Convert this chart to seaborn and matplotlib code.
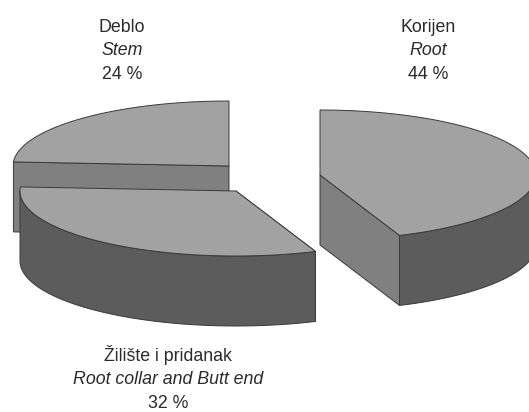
import numpy as np
import matplotlib
matplotlib.use('Agg')
import matplotlib.pyplot as plt
import seaborn as sns

names_hr = ['Korijen', 'Žilište i pridanak', 'Deblo']
names_en = ['Root', 'Root collar and Butt end', 'Stem']
shares = [44, 32, 24]

# pie geometry in image pixels
RX, RY, DEPTH = 216, 65, 70
centers = [(320, 175), (236, 191), (229, 166)]
label_pos = [(428, 32), (168, 361), (122, 32)]
LINE = 23.3

TOP = '#a2a2a2'
CUT = '#808080'
WALL = '#5c5c5c'
EDGE = '#3a3a3a'
TEXT = '#2a2a2a'

sns.set_theme(style='white')
plt.rcParams['font.family'] = ['Liberation Sans', 'DejaVu Sans']

fig = plt.figure(figsize=(5.29, 4.12), dpi=100)
ax = fig.add_axes([0, 0, 1, 1])
ax.set_xlim(0, 529)
ax.set_ylim(412, 0)
ax.axis('off')


def rim(cx, cy, a0, a1):
    # angles clockwise from 12 o'clock
    t = np.radians(np.linspace(a0, a1, 120))
    return cx + RX * np.sin(t), cy - RY * np.cos(t)


def draw_slice(cx, cy, a0, a1, face_angle, z):
    # cut face towards the viewer
    t = np.radians(face_angle)
    ex, ey = cx + RX * np.sin(t), cy - RY * np.cos(t)
    ax.fill([cx, ex, ex, cx], [cy, ey, ey + DEPTH, cy + DEPTH],
            fc=CUT, ec=EDGE, lw=0.7, zorder=z)
    # outer wall, only the front half of the rim shows
    w0, w1 = max(a0, 90), min(a1, 270)
    if w1 > w0:
        x, y = rim(cx, cy, w0, w1)
        ax.fill(np.r_[x, x[::-1]], np.r_[y, y[::-1] + DEPTH],
                fc=WALL, ec=EDGE, lw=0.7, zorder=z)
    # top
    x, y = rim(cx, cy, a0, a1)
    ax.fill(np.r_[cx, x], np.r_[cy, y], fc=TOP, ec=EDGE, lw=0.7, zorder=z)


edges = np.r_[0, np.cumsum(shares)] * 3.6
# root shows its end cut, the other two their start cut
face_angles = [edges[1], edges[1], edges[2]]
for z, i in enumerate([2, 0, 1], start=2):
    draw_slice(*centers[i], edges[i], edges[i + 1], face_angles[i], z)

for i, (x, y) in enumerate(label_pos):
    ax.text(x, y, names_hr[i], ha='center', va='baseline', fontsize=12.8, color=TEXT)
    ax.text(x, y + LINE, names_en[i], ha='center', va='baseline', fontsize=12.8,
            style='italic', color=TEXT)
    ax.text(x, y + 2 * LINE, f'{shares[i]} %', ha='center', va='baseline', fontsize=12.8,
            color=TEXT)

fig.savefig('out.png', dpi=100)
